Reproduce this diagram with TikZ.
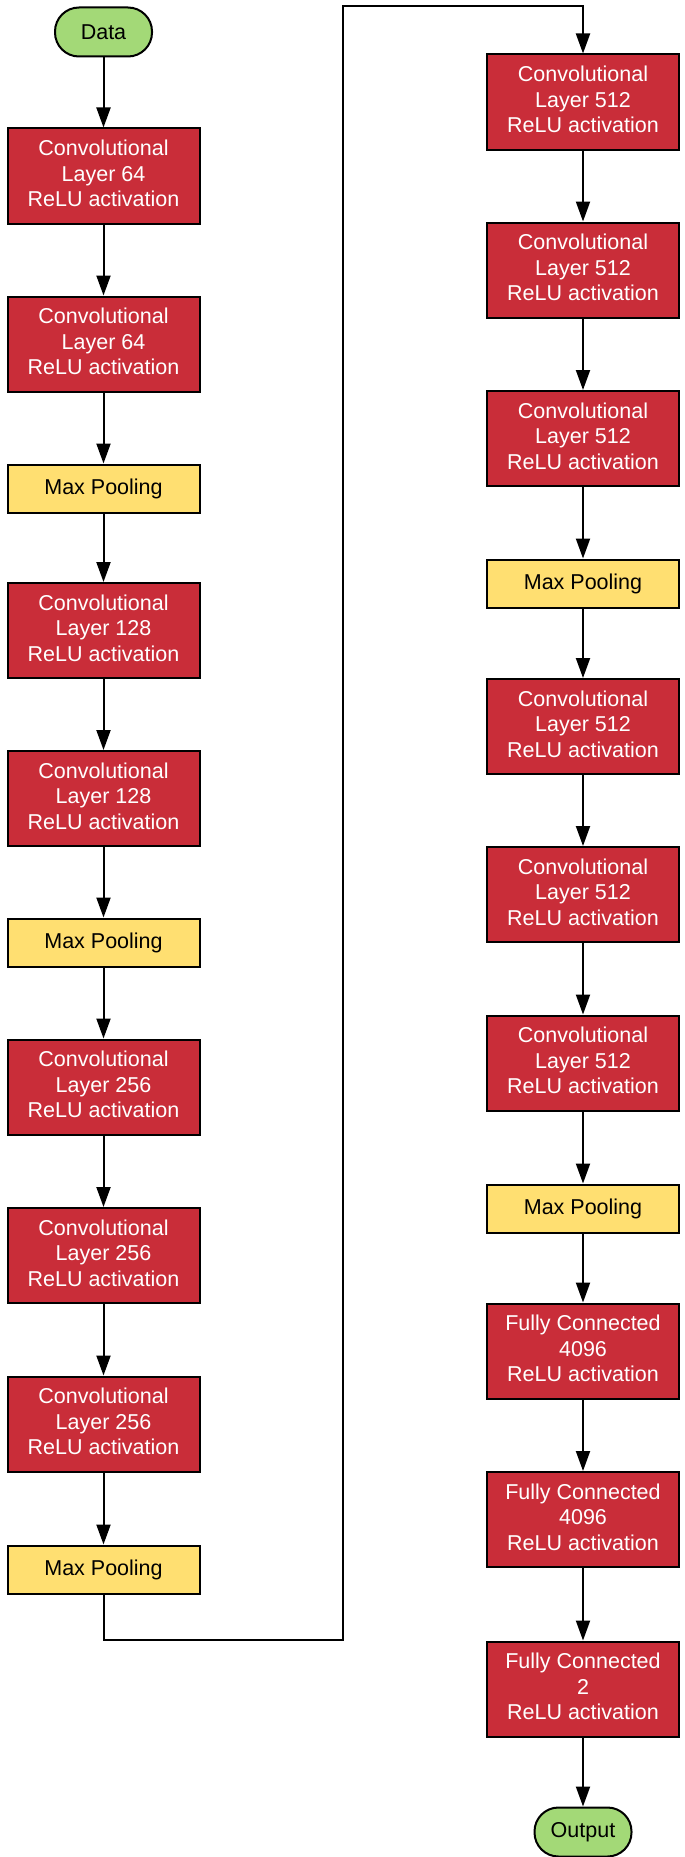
\documentclass[tikz,border=0pt]{standalone}
\usepackage{fontspec}
\setmainfont{Liberation Sans}
\usetikzlibrary{arrows.meta}
\definecolor{convred}{HTML}{C92D39}
\definecolor{poolyellow}{HTML}{FFDF71}
\definecolor{termgreen}{HTML}{A3D977}
\tikzset{
  base/.style={draw=black, line width=2pt, inner sep=0pt, align=center,
    font=\fontsize{21.5pt}{25.5pt}\selectfont},
  conv/.style={base, fill=convred, text=white, minimum width=192pt, minimum height=95pt, text depth=5pt},
  pool/.style={base, fill=poolyellow, text=black, minimum width=192pt, minimum height=48pt},
  term/.style={base, fill=termgreen, text=black, minimum width=97pt, minimum height=49pt, rounded corners=24pt},
  conn/.style={line width=2pt, -{Triangle[length=20pt,width=14pt]}},
}
\begin{document}
\begin{tikzpicture}[x=1pt,y=-1pt]
\useasboundingbox (0,0) rectangle (685,1857);
% left column
\node[term] (data) at (103.5,32) {Data};
\node[conv] (c1) at (103.5,176) {Convolutional\\Layer 64\\ReLU activation};
\node[conv] (c2) at (103.5,344) {Convolutional\\Layer 64\\ReLU activation};
\node[pool] (p1) at (103.5,488.5) {Max Pooling};
\node[conv] (c3) at (103.5,630.5) {Convolutional\\Layer 128\\ReLU activation};
\node[conv] (c4) at (103.5,798.5) {Convolutional\\Layer 128\\ReLU activation};
\node[pool] (p2) at (103.5,942.5) {Max Pooling};
\node[conv] (c5) at (103.5,1087) {Convolutional\\Layer 256\\ReLU activation};
\node[conv] (c6) at (103.5,1255.5) {Convolutional\\Layer 256\\ReLU activation};
\node[conv] (c7) at (103.5,1424) {Convolutional\\Layer 256\\ReLU activation};
\node[pool] (p3) at (103.5,1569.5) {Max Pooling};
% right column
\node[conv] (r1) at (583,102) {Convolutional\\Layer 512\\ReLU activation};
\node[conv] (r2) at (583,270) {Convolutional\\Layer 512\\ReLU activation};
\node[conv] (r3) at (583,438.5) {Convolutional\\Layer 512\\ReLU activation};
\node[pool] (rp1) at (583,583.5) {Max Pooling};
\node[conv] (r4) at (583,726.5) {Convolutional\\Layer 512\\ReLU activation};
\node[conv] (r5) at (583,894.5) {Convolutional\\Layer 512\\ReLU activation};
\node[conv] (r6) at (583,1063) {Convolutional\\Layer 512\\ReLU activation};
\node[pool] (rp2) at (583,1208.5) {Max Pooling};
\node[conv] (r7) at (583,1351) {Fully Connected\\4096\\ReLU activation};
\node[conv] (r8) at (583,1519.5) {Fully Connected\\4096\\ReLU activation};
\node[conv] (r9) at (583,1689) {Fully Connected\\2\\ReLU activation};
\node[term] (out) at (583,1832) {Output};
% connectors
\foreach \a/\b in {data/c1,c1/c2,c2/p1,p1/c3,c3/c4,c4/p2,p2/c5,c5/c6,c6/c7,c7/p3,
  r1/r2,r2/r3,r3/rp1,rp1/r4,r4/r5,r5/r6,r6/rp2,rp2/r7,r7/r8,r8/r9,r9/out}
  \draw[conn] (\a) -- (\b);
\coordinate (b1) at (103.5,1640);
\coordinate (b2) at (343,1640);
\coordinate (t1) at (343,6);
\coordinate (t2) at (583,6);
\draw[conn, line join=miter] (p3.south) -- (b1) -- (b2) -- (t1) -- (t2) -- (r1.north);
\end{tikzpicture}
\end{document}
